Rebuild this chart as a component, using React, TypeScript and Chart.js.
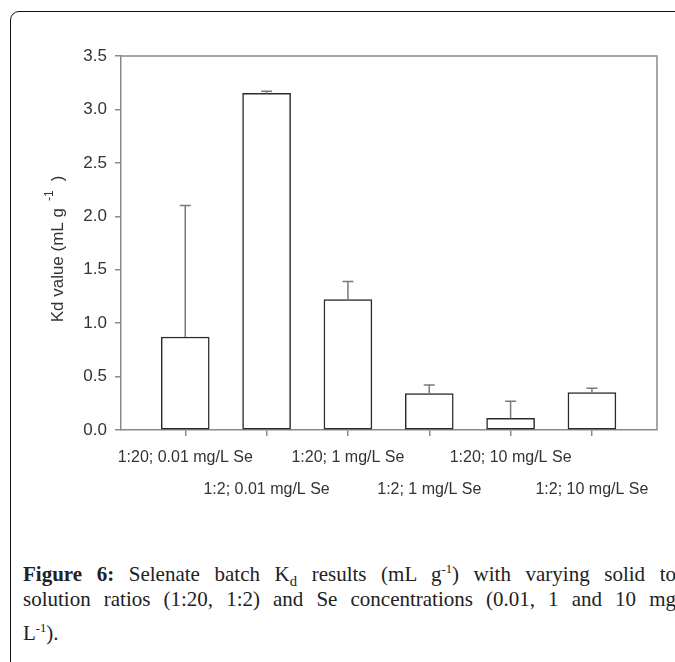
import React, { useEffect, useRef } from 'react';
import { Chart, registerables } from 'chart.js';

Chart.register(...registerables);

const categories = [
  '1:20; 0.01 mg/L Se',
  '1:2; 0.01 mg/L Se',
  '1:20; 1 mg/L Se',
  '1:2; 1 mg/L Se',
  '1:20; 10 mg/L Se',
  '1:2; 10 mg/L Se',
];
const kdValues = [0.87, 3.15, 1.22, 0.34, 0.11, 0.35];
const kdErrors = [1.23, 0.02, 0.17, 0.08, 0.16, 0.04];
const yTickValues = [0, 0.5, 1.0, 1.5, 2.0, 2.5, 3.0, 3.5];
const yTitleMain = 'Kd value (mL g';
const yTitleSup = '-1';
const yTitleEnd = ')';

const SANS = '"Liberation Sans", Arial, Helvetica, sans-serif';

const errorBarPlugin = {
  id: 'errorBars',
  afterDatasetsDraw(chart: any) {
    const ctx = chart.ctx;
    const meta = chart.getDatasetMeta(0);
    const yScale = chart.scales.y;
    ctx.save();
    ctx.strokeStyle = '#7a7a7a';
    ctx.lineWidth = 1.5;
    meta.data.forEach((bar: any, i: number) => {
      const x = bar.x;
      const yTop = yScale.getPixelForValue(kdValues[i] + kdErrors[i]);
      ctx.beginPath();
      ctx.moveTo(x, bar.y);
      ctx.lineTo(x, yTop);
      ctx.moveTo(x - 5.5, yTop);
      ctx.lineTo(x + 5.5, yTop);
      ctx.stroke();
    });
    ctx.restore();
  },
};

const frameBoxPlugin = {
  id: 'frameBox',
  afterDraw(chart: any) {
    const { ctx, chartArea } = chart;
    ctx.save();
    ctx.strokeStyle = '#8a8a8a';
    ctx.lineWidth = 1.5;
    ctx.beginPath();
    ctx.moveTo(chartArea.left, chartArea.top);
    ctx.lineTo(chartArea.right, chartArea.top);
    ctx.lineTo(chartArea.right, chartArea.bottom);
    ctx.stroke();
    ctx.restore();
  },
};

const yTitlePlugin = {
  id: 'yTitleSup',
  afterDraw(chart: any) {
    const { ctx, chartArea } = chart;
    const cy = (chartArea.top + chartArea.bottom) / 2 + 6;
    const cx = 58;
    ctx.save();
    ctx.translate(cx, cy);
    ctx.rotate(-Math.PI / 2);
    ctx.fillStyle = '#333333';
    ctx.textBaseline = 'middle';
    ctx.textAlign = 'left';
    const mainFont = `17px ${SANS}`;
    const supFont = `12px ${SANS}`;
    ctx.font = mainFont;
    const wMain = ctx.measureText(yTitleMain).width;
    ctx.font = supFont;
    const wSup = ctx.measureText(yTitleSup).width;
    ctx.font = mainFont;
    const wEnd = ctx.measureText(yTitleEnd).width;
    const gap1 = 7;
    const gap2 = 9;
    const total = wMain + gap1 + wSup + gap2 + wEnd;
    let x = -total / 2;
    ctx.font = mainFont;
    ctx.fillText(yTitleMain, x, 0);
    x += wMain + gap1;
    ctx.font = supFont;
    ctx.fillText(yTitleSup, x, -8);
    x += wSup + gap2;
    ctx.font = mainFont;
    ctx.fillText(yTitleEnd, x, 0);
    ctx.restore();
  },
};

function KdChart() {
  const ref = useRef<HTMLCanvasElement>(null);
  useEffect(() => {
    if (!ref.current) return;
    const chart = new Chart(ref.current, {
      type: 'bar',
      data: {
        datasets: [
          {
            data: kdValues.map((v, i) => ({ x: i, y: v })),
            backgroundColor: '#ffffff',
            borderColor: '#2a2a2a',
            borderWidth: 1.5,
            borderSkipped: false,
            barThickness: 48,
          },
        ],
      },
      options: {
        animation: false,
        responsive: false,
        maintainAspectRatio: false,
        layout: { padding: { top: 56, right: 18, left: 0, bottom: 0 } },
        plugins: { legend: { display: false }, tooltip: { enabled: false } },
        scales: {
          x: {
            type: 'linear',
            offset: false,
            min: -0.79,
            max: 5.8,
            afterBuildTicks: (scale: any) => {
              scale.ticks = categories.map((_, i) => ({ value: i }));
            },
            afterFit: (scale: any) => {
              scale.height = 90;
            },
            grid: {
              offset: false,
              drawOnChartArea: false,
              drawTicks: true,
              tickLength: 6,
              color: '#8a8a8a',
              lineWidth: 1.5,
            },
            border: { display: true, color: '#8a8a8a', width: 1.5 },
            ticks: {
              autoSkip: false,
              maxRotation: 0,
              minRotation: 0,
              padding: 6,
              color: '#333333',
              font: { family: SANS, size: 16, lineHeight: '32px' },
              callback: (value: any) => {
                const i = Math.round(value);
                const label = categories[i] ?? '';
                return i % 2 === 1 ? ['', label] : label;
              },
            },
          },
          y: {
            min: 0,
            max: 3.5,
            afterBuildTicks: (scale: any) => {
              scale.ticks = yTickValues.map((v) => ({ value: v }));
            },
            afterFit: (scale: any) => {
              scale.width = 121;
            },
            grid: {
              drawOnChartArea: false,
              drawTicks: true,
              tickLength: 6,
              color: '#8a8a8a',
              lineWidth: 1.5,
            },
            border: { display: true, color: '#8a8a8a', width: 1.5 },
            ticks: {
              padding: 8,
              color: '#333333',
              font: { family: SANS, size: 17 },
              callback: (value: any) => Number(value).toFixed(1),
            },
            title: { display: false },
          },
        },
      },
      plugins: [errorBarPlugin, frameBoxPlugin, yTitlePlugin],
    });
    return () => chart.destroy();
  }, []);
  return (
    <canvas
      ref={ref}
      width={675}
      height={520}
      style={{ position: 'absolute', left: 0, top: 0, width: 675, height: 520 }}
    />
  );
}

const lineStyle: React.CSSProperties = {
  textAlign: 'justify',
  textAlignLast: 'justify' as any,
  height: 29.5,
  lineHeight: '29.5px',
  whiteSpace: 'nowrap',
};

export default function App() {
  return (
    <div style={{ position: 'absolute', left: 0, top: 0, width: 675, height: 662, overflow: 'hidden', background: '#fff' }}>
      <div
        style={{
          position: 'absolute',
          left: 10,
          top: 11,
          width: 720,
          height: 720,
          border: '1.5px solid #111',
          borderRadius: 9,
          boxSizing: 'border-box',
        }}
      />
      <KdChart />
      <div
        style={{
          position: 'absolute',
          left: 23,
          top: 555,
          width: 653,
          fontFamily: '"Liberation Serif", serif',
          fontSize: 21,
          color: '#222',
        }}
      >
        <div style={lineStyle}>
          <b>Figure 6:</b> Selenate batch K<sub style={{ fontSize: '0.7em' }}>d</sub> results (mL g<sup style={{ fontSize: '0.6em' }}>-1</sup>) with varying solid to
        </div>
        <div style={lineStyle}>
          solution ratios (1:20, 1:2) and Se concentrations (0.01, 1 and 10 mg
        </div>
        <div style={{ height: 29.5, lineHeight: '29.5px' }}>
          L<sup style={{ fontSize: '0.6em' }}>-1</sup>).
        </div>
      </div>
    </div>
  );
}
